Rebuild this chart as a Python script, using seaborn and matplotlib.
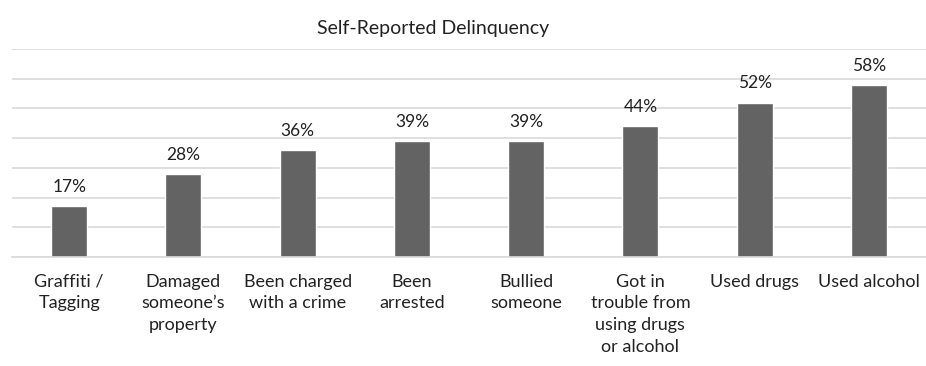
import pandas as pd
import seaborn as sns
import matplotlib.pyplot as plt
from matplotlib.ticker import MultipleLocator

categories = [
    "Graffiti /\nTagging",
    "Damaged\nsomeone\u2019s\nproperty",
    "Been charged\nwith a crime",
    "Been\narrested",
    "Bullied\nsomeone",
    "Got in\ntrouble from\nusing drugs\nor alcohol",
    "Used drugs",
    "Used alcohol",
]
percent = [17, 28, 36, 39, 39, 44, 52, 58]


def main():
    df = pd.DataFrame({"category": categories, "percent": percent})

    sns.set_theme(style="white")
    plt.rcParams['font.family'] = ['Lato', 'DejaVu Sans']

    fig = plt.figure(figsize=(9.26, 3.66), dpi=100)
    ax = fig.add_axes([0.013, 0.298, 0.987, 0.568])

    sns.barplot(data=df, x="category", y="percent", color="#636363",
                saturation=1, width=0.315, ax=ax)

    ax.set_ylim(0, 70)
    ax.yaxis.set_major_locator(MultipleLocator(10))
    ax.grid(axis='y', color='#d9d9d9', linewidth=1.2)
    ax.set_axisbelow(True)
    for side in ['top', 'right', 'left']:
        ax.spines[side].set_visible(False)
    ax.spines['bottom'].set_color('#d9d9d9')
    ax.spines['bottom'].set_linewidth(1.2)
    ax.set_yticklabels([])
    ax.tick_params(axis='y', length=0)
    ax.tick_params(axis='x', length=0, pad=12, labelsize=13, colors='#222222')
    for lbl in ax.get_xticklabels():
        lbl.set_linespacing(1.45)
    ax.set_xlabel("")
    ax.set_ylabel("")

    ax.bar_label(ax.containers[0], labels=[f"{v}%" for v in percent],
                 padding=8, fontsize=12.5, color='#222222')

    fig.text(0.468, 0.923, "Self-Reported Delinquency", ha='center',
             va='center', fontsize=14, color='#222222')

    fig.savefig("out.png", dpi=100)


if __name__ == "__main__":
    main()
